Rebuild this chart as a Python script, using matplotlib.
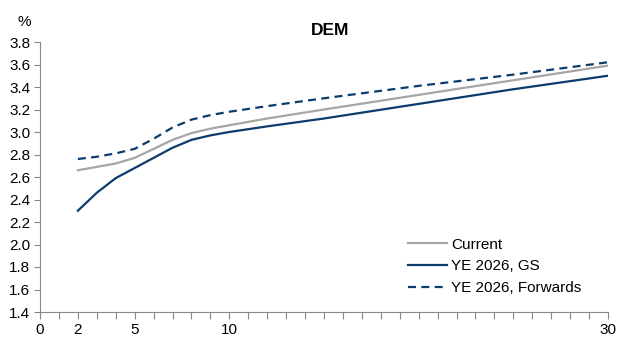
import numpy as np
from matplotlib import pyplot as plt

plt.rcParams['font.family'] = ['Liberation Sans', 'DejaVu Sans']
plt.rcParams['font.size'] = 11

# tenor (years) and yields (%)
tenors = [2, 3, 4, 5, 6, 7, 8, 9, 10, 12, 15, 20, 25, 30]
current = [2.66, 2.69, 2.72, 2.77, 2.85, 2.93, 2.99, 3.03, 3.06, 3.12, 3.20, 3.33, 3.46, 3.59]
ye_gs = [2.30, 2.46, 2.59, 2.68, 2.77, 2.86, 2.93, 2.97, 3.00, 3.05, 3.12, 3.25, 3.38, 3.50]
ye_fwd = [2.76, 2.78, 2.81, 2.85, 2.94, 3.04, 3.11, 3.15, 3.18, 3.23, 3.30, 3.41, 3.51, 3.62]

x_ticks = [0, 2, 5, 10, 30]
x_labels = ['0', '2', '5', '10', '30']
y_ticks = np.arange(1.4, 3.81, 0.2)

navy = '#0b3c6b'
grey = '#a6a6a6'

fig = plt.figure(figsize=(6.25, 3.42), dpi=100)
ax = fig.add_axes([40 / 625, 1 - 312 / 342, 568 / 625, 270 / 342])

ax.plot(tenors, current, color=grey, lw=1.6, label='Current')
ax.plot(tenors, ye_gs, color=navy, lw=1.6, label='YE 2026, GS')
ax.plot(tenors, ye_fwd, color=navy, lw=1.6, dashes=(3.6, 2.4), label='YE 2026, Forwards')

ax.set_xlim(0, 30)
ax.set_ylim(1.4, 3.8)
ax.set_yticks(y_ticks)
ax.set_yticklabels([f'{v:.1f}' for v in y_ticks])
ax.set_xticks(x_ticks)
ax.set_xticklabels(x_labels)
ax.set_xticks(np.arange(0, 31, 1), minor=True)

for side in ['top', 'right']:
    ax.spines[side].set_visible(False)
for side in ['left', 'bottom']:
    ax.spines[side].set_color('#888888')
    ax.spines[side].set_linewidth(0.8)
ax.tick_params(axis='both', which='both', color='#888888', width=0.8, labelsize=11, pad=3)
ax.tick_params(axis='y', length=4)
ax.tick_params(axis='x', which='both', length=5)

ax.set_title('DEM', fontsize=12.5, fontweight='bold', pad=5, x=0.51)
fig.text(24 / 625, 1 - 22 / 342, '%', fontsize=11, ha='center', va='center')

ax.legend(loc='upper left', bbox_to_anchor=(400 / 625, 1 - 230 / 342),
          bbox_transform=fig.transFigure, frameon=False, fontsize=11,
          handlelength=2.6, handletextpad=0.25, labelspacing=0.5, borderpad=0)

fig.savefig('out.png', dpi=100)
